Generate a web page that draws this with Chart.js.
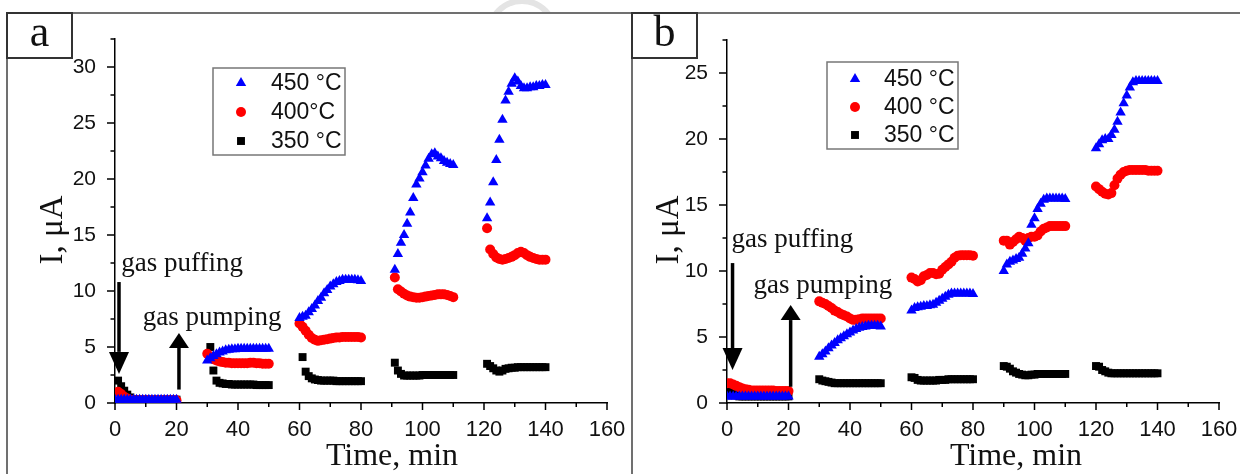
<!DOCTYPE html>
<html lang="en">
<head>
<meta charset="UTF-8">
<title>Current vs time, gas puffing / pumping</title>
<script src="https://cdn.jsdelivr.net/npm/chart.js"></script>
<style>
  body { margin: 0; background: #fff; }
  #wrap { position: relative; width: 1240px; height: 474px; overflow: hidden; background: #fff; }
  canvas { position: absolute; top: 0; }
  .line { position: absolute; background: #707070; }
  .tag { position: absolute; top: 12px; height: 47px; border: 2px solid #333; box-sizing: border-box;
         background: #fff; font: 44px "Liberation Serif", serif; text-align: center; line-height: 36px; color: #111; }
  .arc { position: absolute; left: 486px; top: -2px; width: 72px; height: 72px; border: 6px solid #e4e4e4;
         border-radius: 50%; box-sizing: border-box; }
  .clip { position: absolute; left: 0; top: 0; width: 1240px; height: 12px; overflow: hidden; }
</style>
</head>
<body>
<div id="wrap">
  <canvas id="chartA" width="632" height="474" style="left:0"></canvas>
  <canvas id="chartB" width="608" height="474" style="left:632px"></canvas>
  <div class="clip"><div class="arc"></div></div>
  <div class="line" style="left:7px; top:12px; width:1233px; height:2px"></div>
  <div class="line" style="left:6px; top:12px; width:2px; height:462px"></div>
  <div class="line" style="left:631px; top:12px; width:2px; height:462px"></div>
  <div class="tag" style="left:6px; width:67px">a</div>
  <div class="tag" style="left:631px; width:67px">b</div>
</div>
<script>
  // time, min (same grid for both panels)
  const time = [
    0, 1, 2, 3, 4, 5, 6, 7, 8, 9, 10, 11, 12, 13, 14, 15, 16, 17, 18, 19, 20,
    30, 31, 32, 33, 34, 35, 36, 37, 38, 39, 40, 41, 42, 43, 44, 45, 46, 47, 48, 49, 50,
    60, 61, 62, 63, 64, 65, 66, 67, 68, 69, 70, 71, 72, 73, 74, 75, 76, 77, 78, 79, 80,
    90, 91, 92, 93, 94, 95, 96, 97, 98, 99, 100, 101, 102, 103, 104, 105, 106, 107, 108, 109, 110,
    120, 121, 122, 123, 124, 125, 126, 127, 128, 129, 130, 131, 132, 133, 134, 135, 136, 137, 138, 139, 140
  ];

  // panel a, I (uA)
  const a450 = [
    0.3, 0.3, 0.3, 0.3, 0.3, 0.3, 0.3, 0.3, 0.3, 0.3, 0.3, 0.3, 0.3, 0.3, 0.3, 0.3, 0.3, 0.3, 0.3, 0.3, 0.3,
    3.8, 4.0, 4.2, 4.35, 4.5, 4.6, 4.7, 4.75, 4.8, 4.8, 4.85, 4.85, 4.85, 4.85, 4.85, 4.85, 4.85, 4.85, 4.85, 4.85, 4.85,
    7.6, 7.7, 7.8, 8.1, 8.4, 8.7, 9.1, 9.4, 9.8, 10.1, 10.4, 10.6, 10.8, 10.9, 11.0, 11.0, 11.0, 11.0, 11.0, 10.95, 10.9,
    null, 11.9, 13.3, 14.3, 15.0, 16.0, 17.0, 18.3, 19.5, 20.05, 20.6, 21.2, 21.8, 22.2, 22.3, 22.0, 21.85, 21.6, 21.45, 21.35, 21.25,
    null, 16.5, 17.9, 19.7, 21.7, 23.5, 25.3, 27.0, 27.8, 28.5, 29.0, 28.7, 28.3, 28.1, 28.1, 28.2, 28.2, 28.3, 28.3, 28.4, 28.4
  ];
  const a400 = [
    null, 1.0, 0.8, 0.55, 0.4, 0.3, 0.25, 0.25, 0.25, 0.25, 0.25, 0.25, 0.25, 0.25, 0.25, 0.25, 0.25, 0.25, 0.25, 0.25, 0.25,
    4.4, 4.1, 3.9, 3.8, 3.7, 3.65, 3.6, 3.6, 3.55, 3.55, 3.55, 3.55, 3.55, 3.55, 3.6, 3.6, 3.55, 3.55, 3.5, 3.5, 3.5,
    7.1, 6.8, 6.45, 6.1, 5.8, 5.65, 5.55, 5.6, 5.65, 5.7, 5.75, 5.8, 5.85, 5.85, 5.9, 5.9, 5.9, 5.9, 5.9, 5.9, 5.85,
    null, 11.2, 10.15, 9.95, 9.75, 9.6, 9.5, 9.45, 9.4, 9.4, 9.45, 9.5, 9.55, 9.6, 9.65, 9.7, 9.7, 9.7, 9.65, 9.55, 9.45,
    null, 15.6, 13.7, 13.3, 13.0, 12.85, 12.8, 12.85, 12.95, 13.05, 13.2, 13.4, 13.5, 13.4, 13.2, 13.05, 12.95, 12.85, 12.8, 12.8, 12.8
  ];
  const a350 = [
    null, 2.0, 1.5, 1.1, 0.75, 0.5, 0.35, 0.3, 0.3, 0.3, 0.3, 0.3, 0.3, 0.3, 0.3, 0.3, 0.3, 0.3, 0.3, 0.3, 0.3,
    null, 5.0, 2.9, 2.0, 1.8, 1.75, 1.7, 1.7, 1.65, 1.65, 1.65, 1.65, 1.65, 1.65, 1.65, 1.65, 1.6, 1.6, 1.6, 1.6, 1.6,
    null, 4.1, 2.8, 2.4, 2.2, 2.1, 2.05, 2.0, 2.0, 2.0, 2.0, 2.0, 1.95, 1.95, 1.95, 1.95, 1.95, 1.95, 1.95, 1.95, 1.95,
    null, 3.6, 2.9, 2.6, 2.45, 2.45, 2.45, 2.45, 2.45, 2.45, 2.5, 2.5, 2.5, 2.5, 2.5, 2.5, 2.5, 2.5, 2.5, 2.5, 2.5,
    null, 3.5, 3.3, 3.1, 2.9, 2.8, 2.9, 3.05, 3.1, 3.15, 3.15, 3.2, 3.2, 3.2, 3.2, 3.2, 3.2, 3.2, 3.2, 3.2, 3.2
  ];

  // panel b, I (uA)
  const b450 = [
    0.5, 0.5, 0.5, 0.5, 0.5, 0.5, 0.5, 0.5, 0.5, 0.5, 0.5, 0.5, 0.5, 0.5, 0.5, 0.5, 0.5, 0.5, 0.5, 0.5, 0.5,
    3.5, 3.7, 3.9, 4.15, 4.35, 4.55, 4.75, 4.9, 5.05, 5.2, 5.35, 5.5, 5.6, 5.7, 5.75, 5.8, 5.85, 5.85, 5.85, 5.85, 5.8,
    7.0, 7.2, 7.25, 7.3, 7.35, 7.35, 7.4, 7.45, 7.6, 7.75, 7.9, 8.05, 8.2, 8.3, 8.3, 8.3, 8.3, 8.3, 8.3, 8.3, 8.25,
    10.0, 10.5, 10.7, 10.8, 10.9, 11.0, 11.3, 11.7, 12.1, 13.5, 14.0, 14.7, 15.1, 15.4, 15.5, 15.5, 15.5, 15.5, 15.5, 15.5, 15.45,
    19.3, 19.6, 19.9, 20.0, 20.0, 20.3, 20.7, 21.3, 22.0, 22.7, 23.3, 23.9, 24.3, 24.4, 24.4, 24.4, 24.4, 24.4, 24.4, 24.4, 24.4
  ];
  const b400 = [
    1.5, 1.5, 1.4, 1.3, 1.2, 1.1, 1.05, 1.0, 0.95, 0.95, 0.95, 0.95, 0.95, 0.95, 0.95, 0.95, 0.9, 0.9, 0.9, 0.9, 0.9,
    7.7, 7.6, 7.5, 7.35, 7.2, 7.0, 6.9, 6.75, 6.65, 6.55, 6.4, 6.3, 6.3, 6.35, 6.4, 6.4, 6.4, 6.4, 6.4, 6.4, 6.4,
    9.5, 9.4, 9.2, 9.3, 9.6, 9.7, 9.85, 9.85, 9.75, 9.8, 10.1, 10.3, 10.5, 10.7, 11.0, 11.15, 11.2, 11.2, 11.2, 11.2, 11.15,
    12.3, 12.3, 12.0, 12.2, 12.4, 12.6, 12.5, 12.3, 12.5, 12.6, 12.6, 12.7, 13.0, 13.2, 13.3, 13.4, 13.4, 13.4, 13.4, 13.4, 13.4,
    16.4, 16.2, 16.0, 15.85, 15.8, 15.9, 16.5, 17.0, 17.3, 17.5, 17.6, 17.65, 17.65, 17.65, 17.65, 17.65, 17.65, 17.6, 17.6, 17.6, 17.6
  ];
  const b350 = [
    1.0, 0.9, 0.75, 0.6, 0.5, 0.5, 0.5, 0.5, 0.5, 0.5, 0.5, 0.5, 0.5, 0.5, 0.5, 0.5, 0.5, 0.5, 0.5, 0.5, 0.5,
    1.8, 1.7, 1.65, 1.6, 1.55, 1.5, 1.5, 1.5, 1.5, 1.5, 1.5, 1.5, 1.5, 1.5, 1.5, 1.5, 1.5, 1.5, 1.5, 1.5, 1.5,
    1.95, 1.9, 1.75, 1.7, 1.7, 1.7, 1.7, 1.7, 1.7, 1.75, 1.75, 1.75, 1.8, 1.8, 1.8, 1.8, 1.8, 1.8, 1.8, 1.8, 1.8,
    2.8, 2.75, 2.6, 2.4, 2.3, 2.2, 2.15, 2.1, 2.1, 2.15, 2.15, 2.2, 2.2, 2.2, 2.2, 2.2, 2.2, 2.2, 2.2, 2.2, 2.2,
    2.8, 2.75, 2.5, 2.4, 2.3, 2.25, 2.25, 2.25, 2.25, 2.25, 2.25, 2.25, 2.25, 2.25, 2.25, 2.25, 2.25, 2.25, 2.25, 2.25, 2.25
  ];

  const labelsA = ['450 °C', '400°C', '350 °C'];
  const labelsB = ['450 °C', '400 °C', '350 °C'];
  const colors = ['#0000ff', '#ff0000', '#000000'];
  const shapes = ['triangle', 'circle', 'rect'];
  const radii = [6, 5, 5.6];

  function pts(vals) {
    const out = [];
    time.forEach((t, i) => { if (vals[i] !== null) out.push({ x: t, y: vals[i] }); });
    return out;
  }

  function marker(ctx, shape, x, y, r) {
    ctx.beginPath();
    if (shape === 'triangle') {
      ctx.moveTo(x, y - r);
      ctx.lineTo(x + r * 0.866, y + r / 2);
      ctx.lineTo(x - r * 0.866, y + r / 2);
      ctx.closePath();
    } else if (shape === 'circle') {
      ctx.arc(x, y, r, 0, Math.PI * 2);
    } else {
      const s = r * Math.SQRT1_2;
      ctx.rect(x - s, y - s, 2 * s, 2 * s);
    }
    ctx.fill();
  }

  function arrow(ctx, px, yFrom, yTip, head) {
    const dir = yTip > yFrom ? 1 : -1, half = 10;
    ctx.lineWidth = 3.5;
    ctx.beginPath();
    ctx.moveTo(px, yFrom);
    ctx.lineTo(px, yTip - dir * head);
    ctx.stroke();
    ctx.beginPath();
    ctx.moveTo(px, yTip);
    ctx.lineTo(px - half, yTip - dir * head);
    ctx.lineTo(px + half, yTip - dir * head);
    ctx.closePath();
    ctx.fill();
  }

  // ticks, axis titles, legend and the gas puffing / pumping notes
  const decor = {
    id: 'decor',
    afterDraw(chart, args, o) {
      const ctx = chart.ctx, xs = chart.scales.x, ys = chart.scales.y, ca = chart.chartArea;
      ctx.save();
      ctx.strokeStyle = '#000';
      ctx.fillStyle = '#000';
      ctx.lineWidth = 1.5;
      ctx.beginPath();
      for (let v = 0; v <= 160; v += 10) {
        const px = xs.getPixelForValue(v);
        ctx.moveTo(px, ca.bottom);
        ctx.lineTo(px, ca.bottom + (v % 20 === 0 ? 7 : 4));
      }
      for (let v = 0; v <= ys.max; v += 2.5) {
        const py = ys.getPixelForValue(v);
        ctx.moveTo(ca.left, py);
        ctx.lineTo(ca.left - (v % 5 === 0 ? 8 : 4.5), py);
      }
      ctx.stroke();

      // axis titles
      ctx.fillStyle = '#111';
      ctx.font = '32px "Liberation Serif", serif';
      ctx.textAlign = 'center';
      ctx.textBaseline = 'alphabetic';
      ctx.fillText('Time, min', o.xTitle[0], o.xTitle[1]);
      ctx.save();
      ctx.translate(o.yTitle[0], o.yTitle[1]);
      ctx.rotate(-Math.PI / 2);
      ctx.font = '33px "Liberation Serif", serif';
      ctx.textBaseline = 'middle';
      ctx.fillText('I, μA', 0, 0);
      ctx.restore();

      // legend box
      const lg = o.legend;
      ctx.fillStyle = '#fff';
      ctx.fillRect(lg.box[0], lg.box[1], lg.box[2], lg.box[3]);
      ctx.strokeStyle = '#777';
      ctx.lineWidth = 1.5;
      ctx.strokeRect(lg.box[0], lg.box[1], lg.box[2], lg.box[3]);
      ctx.font = '23px "Liberation Sans", Arial, sans-serif';
      ctx.textAlign = 'left';
      ctx.textBaseline = 'middle';
      chart.data.datasets.forEach((ds, i) => {
        const ry = lg.rows[i];
        ctx.fillStyle = colors[i];
        marker(ctx, shapes[i], lg.markX, ry, radii[i]);
        ctx.fillStyle = '#111';
        ctx.fillText(ds.label, lg.textX, ry + 1);
      });

      // notes
      const n = o.notes;
      ctx.fillStyle = '#000';
      ctx.strokeStyle = '#000';
      arrow(ctx, xs.getPixelForValue(n.puffArrow[0]), ys.getPixelForValue(n.puffArrow[1]), ys.getPixelForValue(n.puffArrow[2]), 22);
      arrow(ctx, xs.getPixelForValue(n.pumpArrow[0]), ys.getPixelForValue(n.pumpArrow[1]), ys.getPixelForValue(n.pumpArrow[2]), 15);
      ctx.font = '27px "Liberation Serif", serif';
      ctx.textAlign = 'left';
      ctx.textBaseline = 'alphabetic';
      ctx.fillStyle = '#111';
      ctx.fillText('gas puffing', xs.getPixelForValue(n.puffText[0]), ys.getPixelForValue(n.puffText[1]));
      ctx.fillText('gas pumping', xs.getPixelForValue(n.pumpText[0]), ys.getPixelForValue(n.pumpText[1]));
      ctx.restore();
    }
  };

  function makeChart(id, series, labels, yMax, axisW, pad, deco) {
    const datasets = series.map((vals, i) => ({
      label: labels[i],
      data: pts(vals),
      pointStyle: shapes[i],
      pointRadius: radii[i],
      pointBorderWidth: 0,
      backgroundColor: colors[i],
      borderColor: colors[i],
      showLine: false
    }));
    return new Chart(document.getElementById(id), {
      type: 'scatter',
      data: { datasets },
      options: {
        responsive: false,
        animation: false,
        layout: { padding: pad },
        plugins: { legend: { display: false }, tooltip: { enabled: false }, decor: deco },
        scales: {
          x: {
            type: 'linear', min: 0, max: 160,
            grid: { display: false },
            border: { display: true, color: '#000', width: 1.5 },
            ticks: { stepSize: 20, padding: 6, color: '#111', font: { family: '"Liberation Sans", Arial, sans-serif', size: 22 } },
            afterFit: s => { s.height = 71; s.paddingLeft = 0; s.paddingRight = 0; }
          },
          y: {
            type: 'linear', min: 0, max: yMax,
            grid: { display: false },
            border: { display: true, color: '#000', width: 1.5 },
            ticks: { stepSize: 5, padding: 11, color: '#111', font: { family: '"Liberation Sans", Arial, sans-serif', size: 21 } },
            afterBuildTicks: s => { s.ticks = s.ticks.filter(t => t.value % 5 === 0); },
            afterFit: s => { s.width = axisW; s.paddingTop = 0; s.paddingBottom = 0; }
          }
        }
      },
      plugins: [decor]
    });
  }

  makeChart('chartA', [a450, a400, a350], labelsA, 32.5, 115, { top: 39, right: 25, left: 0, bottom: 0 }, {
    xTitle: [392, 465], yTitle: [53, 230],
    legend: { box: [213, 68, 132, 87], markX: 241, textX: 271, rows: [83, 112, 141] },
    notes: { puffText: [2, 11.8], pumpText: [9, 6.96], puffArrow: [1.3, 10.8, 2.6], pumpArrow: [20.8, 1.2, 6.25] }
  });

  makeChart('chartB', [b450, b400, b350], labelsB, 27.5, 95, { top: 40, right: 21, left: 0, bottom: 0 }, {
    xTitle: [384, 465], yTitle: [37, 230],
    legend: { box: [195, 62, 131, 87], markX: 223, textX: 252, rows: [79, 107, 135] },
    notes: { puffText: [1.5, 11.85], pumpText: [8.6, 8.36], puffArrow: [1.8, 10.6, 2.5], pumpArrow: [20.7, 1.23, 7.42] }
  });
</script>
</body>
</html>
